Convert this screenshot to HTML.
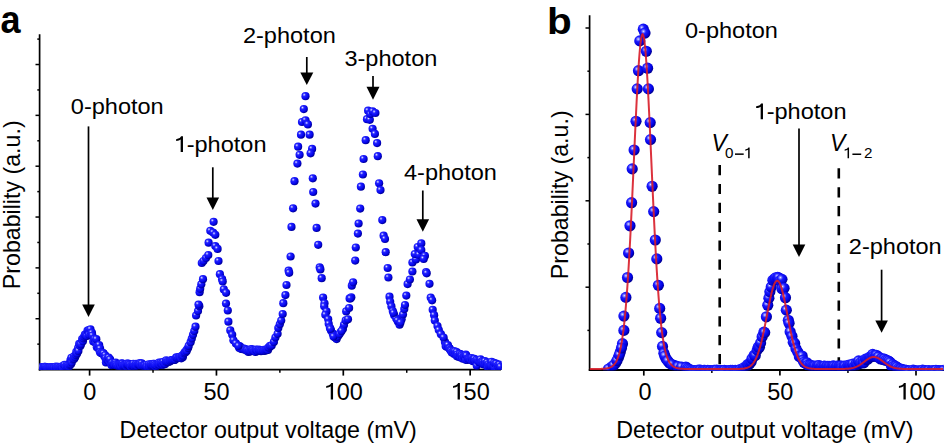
<!DOCTYPE html><html><head><meta charset="utf-8"><style>html,body{margin:0;padding:0;background:#fff;width:946px;height:443px;overflow:hidden}svg{display:block}text{font-family:"Liberation Sans",sans-serif;fill:#000}</style></head><body>
<svg width="946" height="443" viewBox="0 0 946 443">
<defs><radialGradient id="ga" cx="0.34" cy="0.32" r="0.66"><stop offset="0" stop-color="#f4f4ff"/><stop offset="0.12" stop-color="#9090ff"/><stop offset="0.3" stop-color="#2222ff"/><stop offset="0.75" stop-color="#0606ec"/><stop offset="1" stop-color="#0000a0"/></radialGradient><radialGradient id="gb" cx="0.36" cy="0.34" r="0.64"><stop offset="0" stop-color="#e8e8ff"/><stop offset="0.14" stop-color="#8a8aff"/><stop offset="0.36" stop-color="#1c1cff"/><stop offset="0.8" stop-color="#0000e0"/><stop offset="1" stop-color="#000098"/></radialGradient></defs>
<clipPath id="ca"><rect x="39.6" y="0" width="462" height="369.9"/></clipPath><clipPath id="cb"><rect x="589.6" y="0" width="354.2" height="370.2"/></clipPath>
<rect width="946" height="443" fill="#fff"/>
<g stroke="#000" fill="none"><line x1="39.6" y1="34.3" x2="39.6" y2="370.5" stroke-width="1.7"/><line x1="38.8" y1="369.7" x2="501" y2="369.7" stroke-width="1.8"/><line x1="37.3" y1="39.1" x2="39.6" y2="39.1" stroke-width="1.5"/><line x1="35.5" y1="64.52" x2="39.6" y2="64.52" stroke-width="1.5"/><line x1="37.3" y1="89.94" x2="39.6" y2="89.94" stroke-width="1.5"/><line x1="35.5" y1="115.36" x2="39.6" y2="115.36" stroke-width="1.5"/><line x1="37.3" y1="140.78" x2="39.6" y2="140.78" stroke-width="1.5"/><line x1="35.5" y1="166.2" x2="39.6" y2="166.2" stroke-width="1.5"/><line x1="37.3" y1="191.62" x2="39.6" y2="191.62" stroke-width="1.5"/><line x1="35.5" y1="217.04" x2="39.6" y2="217.04" stroke-width="1.5"/><line x1="37.3" y1="242.46" x2="39.6" y2="242.46" stroke-width="1.5"/><line x1="35.5" y1="267.88" x2="39.6" y2="267.88" stroke-width="1.5"/><line x1="37.3" y1="293.3" x2="39.6" y2="293.3" stroke-width="1.5"/><line x1="35.5" y1="318.72" x2="39.6" y2="318.72" stroke-width="1.5"/><line x1="37.3" y1="344.14" x2="39.6" y2="344.14" stroke-width="1.5"/><line x1="89.6" y1="369.7" x2="89.6" y2="375.6" stroke-width="1.7"/><line x1="216.45" y1="369.7" x2="216.45" y2="375.6" stroke-width="1.7"/><line x1="343.3" y1="369.7" x2="343.3" y2="375.6" stroke-width="1.7"/><line x1="470.15" y1="369.7" x2="470.15" y2="375.6" stroke-width="1.7"/><line x1="153.02" y1="369.7" x2="153.02" y2="372.8" stroke-width="1.5"/><line x1="279.88" y1="369.7" x2="279.88" y2="372.8" stroke-width="1.5"/><line x1="406.73" y1="369.7" x2="406.73" y2="372.8" stroke-width="1.5"/></g>
<g stroke="#000" fill="none"><line x1="589.6" y1="15.3" x2="589.6" y2="370.8" stroke-width="1.7"/><line x1="588.8" y1="370" x2="944" y2="370" stroke-width="1.8"/><line x1="585.5" y1="28" x2="589.6" y2="28" stroke-width="1.5"/><line x1="587.4" y1="71.2" x2="589.6" y2="71.2" stroke-width="1.5"/><line x1="585.5" y1="114.4" x2="589.6" y2="114.4" stroke-width="1.5"/><line x1="587.4" y1="157.6" x2="589.6" y2="157.6" stroke-width="1.5"/><line x1="585.5" y1="200.8" x2="589.6" y2="200.8" stroke-width="1.5"/><line x1="587.4" y1="244" x2="589.6" y2="244" stroke-width="1.5"/><line x1="585.5" y1="287.2" x2="589.6" y2="287.2" stroke-width="1.5"/><line x1="587.4" y1="330.4" x2="589.6" y2="330.4" stroke-width="1.5"/><line x1="643.8" y1="370" x2="643.8" y2="375.6" stroke-width="1.7"/><line x1="779.9" y1="370" x2="779.9" y2="375.6" stroke-width="1.7"/><line x1="916" y1="370" x2="916" y2="375.6" stroke-width="1.7"/><line x1="711.85" y1="370" x2="711.85" y2="373" stroke-width="1.5"/><line x1="847.95" y1="370" x2="847.95" y2="373" stroke-width="1.5"/><line x1="719.7" y1="165" x2="719.7" y2="366" stroke-width="2.6" stroke-dasharray="10.2 8.7"/><line x1="838.8" y1="168.3" x2="838.8" y2="366" stroke-width="2.6" stroke-dasharray="10.2 8.7"/></g>
<g fill="url(#ga)" clip-path="url(#ca)"><circle cx="40.13" cy="367.47" r="4.1"/><circle cx="40.62" cy="367.49" r="4.1"/><circle cx="41.35" cy="367.13" r="4.1"/><circle cx="42.21" cy="368.16" r="4.1"/><circle cx="42.86" cy="368.12" r="4.1"/><circle cx="43.55" cy="367.8" r="4.1"/><circle cx="44.41" cy="366.77" r="4.1"/><circle cx="45.02" cy="367.85" r="4.1"/><circle cx="45.16" cy="366.75" r="4.1"/><circle cx="46.18" cy="367.16" r="4.1"/><circle cx="46.99" cy="367.75" r="4.1"/><circle cx="47.54" cy="367.86" r="4.1"/><circle cx="48.5" cy="367.75" r="4.1"/><circle cx="49.53" cy="367.27" r="4.1"/><circle cx="50.1" cy="367.88" r="4.1"/><circle cx="50.32" cy="367.29" r="4.1"/><circle cx="51.17" cy="367.43" r="4.1"/><circle cx="51.96" cy="367.92" r="4.1"/><circle cx="52.36" cy="367.38" r="4.1"/><circle cx="53.61" cy="367.34" r="4.1"/><circle cx="54.06" cy="367.2" r="4.1"/><circle cx="54.33" cy="367.81" r="4.1"/><circle cx="55.73" cy="367.62" r="4.1"/><circle cx="56.02" cy="366.59" r="4.1"/><circle cx="56.6" cy="367.55" r="4.1"/><circle cx="57.48" cy="367.85" r="4.1"/><circle cx="58.41" cy="366.85" r="4.1"/><circle cx="59.14" cy="367.84" r="4.1"/><circle cx="59.69" cy="368.16" r="4.1"/><circle cx="59.98" cy="367.47" r="4.1"/><circle cx="60.85" cy="367.79" r="4.1"/><circle cx="61.38" cy="366.87" r="4.1"/><circle cx="62.27" cy="366.33" r="4.1"/><circle cx="62.59" cy="367.96" r="4.1"/><circle cx="63.86" cy="365.58" r="4.1"/><circle cx="64.64" cy="367.73" r="4.1"/><circle cx="64.57" cy="364.88" r="4.1"/><circle cx="65.72" cy="366.51" r="4.1"/><circle cx="66.84" cy="364.96" r="4.1"/><circle cx="67.34" cy="366.34" r="4.1"/><circle cx="68.11" cy="365.26" r="4.1"/><circle cx="68.85" cy="366.7" r="4.1"/><circle cx="69.54" cy="364.75" r="4.1"/><circle cx="70.42" cy="360.26" r="4.1"/><circle cx="70.93" cy="364.26" r="4.1"/><circle cx="71.34" cy="357.89" r="4.1"/><circle cx="71.75" cy="362.44" r="4.1"/><circle cx="73.15" cy="359.51" r="4.1"/><circle cx="74" cy="356.25" r="4.1"/><circle cx="74.26" cy="358.67" r="4.1"/><circle cx="75.16" cy="357.12" r="4.1"/><circle cx="75.99" cy="355.05" r="4.1"/><circle cx="76.3" cy="351.88" r="4.1"/><circle cx="77.11" cy="353.44" r="4.1"/><circle cx="78.04" cy="348.13" r="4.1"/><circle cx="78.39" cy="350.95" r="4.1"/><circle cx="79.17" cy="343.91" r="4.1"/><circle cx="79.83" cy="344.62" r="4.1"/><circle cx="80.34" cy="345.97" r="4.1"/><circle cx="80.98" cy="344.3" r="4.1"/><circle cx="82.16" cy="339" r="4.1"/><circle cx="82.91" cy="341.24" r="4.1"/><circle cx="83.44" cy="338.36" r="4.1"/><circle cx="84.24" cy="336.59" r="4.1"/><circle cx="84.87" cy="334.72" r="4.1"/><circle cx="85.5" cy="335.09" r="4.1"/><circle cx="86.34" cy="334.4" r="4.1"/><circle cx="86.98" cy="335.92" r="4.1"/><circle cx="87.51" cy="330.59" r="4.1"/><circle cx="88.53" cy="330.68" r="4.1"/><circle cx="89.1" cy="330.11" r="4.1"/><circle cx="89.06" cy="334.59" r="4.1"/><circle cx="90.46" cy="329.31" r="4.1"/><circle cx="91.16" cy="333.31" r="4.1"/><circle cx="91.96" cy="332.96" r="4.1"/><circle cx="92.37" cy="335.54" r="4.1"/><circle cx="93.29" cy="341.42" r="4.1"/><circle cx="94.45" cy="339.02" r="4.1"/><circle cx="95.72" cy="342.92" r="4.1"/><circle cx="96.32" cy="339.2" r="4.1"/><circle cx="96.85" cy="347.27" r="4.1"/><circle cx="98.08" cy="346.19" r="4.1"/><circle cx="98.91" cy="348.92" r="4.1"/><circle cx="99.15" cy="345.02" r="4.1"/><circle cx="100.1" cy="348.58" r="4.1"/><circle cx="99.97" cy="352.25" r="4.1"/><circle cx="100.98" cy="353.12" r="4.1"/><circle cx="101.67" cy="353.22" r="4.1"/><circle cx="103.04" cy="353.13" r="4.1"/><circle cx="103.49" cy="353.39" r="4.1"/><circle cx="104.18" cy="356.06" r="4.1"/><circle cx="105.22" cy="355.26" r="4.1"/><circle cx="105.47" cy="358.29" r="4.1"/><circle cx="105.95" cy="362.39" r="4.1"/><circle cx="106.87" cy="359.79" r="4.1"/><circle cx="107.82" cy="359.18" r="4.1"/><circle cx="108.5" cy="360.22" r="4.1"/><circle cx="108.66" cy="357.49" r="4.1"/><circle cx="109.5" cy="362.07" r="4.1"/><circle cx="110.07" cy="359.46" r="4.1"/><circle cx="111.33" cy="364.33" r="4.1"/><circle cx="111.61" cy="365.23" r="4.1"/><circle cx="112.25" cy="362.94" r="4.1"/><circle cx="113.64" cy="364.43" r="4.1"/><circle cx="114.33" cy="363.24" r="4.1"/><circle cx="114.6" cy="364.89" r="4.1"/><circle cx="115.69" cy="362.62" r="4.1"/><circle cx="115.89" cy="364.23" r="4.1"/><circle cx="116.84" cy="364.73" r="4.1"/><circle cx="117.18" cy="365.71" r="4.1"/><circle cx="118.51" cy="365.53" r="4.1"/><circle cx="118.79" cy="365.89" r="4.1"/><circle cx="119.79" cy="364.24" r="4.1"/><circle cx="120.27" cy="365.03" r="4.1"/><circle cx="120.87" cy="366.18" r="4.1"/><circle cx="121.54" cy="363.31" r="4.1"/><circle cx="122.54" cy="363.71" r="4.1"/><circle cx="122.89" cy="365.45" r="4.1"/><circle cx="123.95" cy="365.18" r="4.1"/><circle cx="124.77" cy="365.25" r="4.1"/><circle cx="125.4" cy="365.13" r="4.1"/><circle cx="126.24" cy="366.37" r="4.1"/><circle cx="126.76" cy="364.63" r="4.1"/><circle cx="126.97" cy="363.66" r="4.1"/><circle cx="128.21" cy="363.59" r="4.1"/><circle cx="128.64" cy="364.17" r="4.1"/><circle cx="129.33" cy="364.99" r="4.1"/><circle cx="130.1" cy="364.67" r="4.1"/><circle cx="130.75" cy="366.57" r="4.1"/><circle cx="131.69" cy="365.56" r="4.1"/><circle cx="131.83" cy="364.97" r="4.1"/><circle cx="133.11" cy="364.68" r="4.1"/><circle cx="133.39" cy="363.8" r="4.1"/><circle cx="134.44" cy="365.92" r="4.1"/><circle cx="135.14" cy="365.11" r="4.1"/><circle cx="135.35" cy="365.24" r="4.1"/><circle cx="136.18" cy="363.85" r="4.1"/><circle cx="136.9" cy="365.83" r="4.1"/><circle cx="137.55" cy="364.37" r="4.1"/><circle cx="138.41" cy="363.86" r="4.1"/><circle cx="139.23" cy="364.13" r="4.1"/><circle cx="139.92" cy="363.18" r="4.1"/><circle cx="140.05" cy="364.55" r="4.1"/><circle cx="141.17" cy="365.64" r="4.1"/><circle cx="141.72" cy="363.27" r="4.1"/><circle cx="142.53" cy="365.29" r="4.1"/><circle cx="143.53" cy="365.67" r="4.1"/><circle cx="144.12" cy="365.58" r="4.1"/><circle cx="144.9" cy="366.1" r="4.1"/><circle cx="144.92" cy="365.39" r="4.1"/><circle cx="146.47" cy="365.74" r="4.1"/><circle cx="146.72" cy="364.79" r="4.1"/><circle cx="147.1" cy="366.57" r="4.1"/><circle cx="148.85" cy="365.39" r="4.1"/><circle cx="149.11" cy="364.27" r="4.1"/><circle cx="149.61" cy="366.51" r="4.1"/><circle cx="150.57" cy="365.41" r="4.1"/><circle cx="151.02" cy="364.17" r="4.1"/><circle cx="151.95" cy="365.06" r="4.1"/><circle cx="152.39" cy="364.73" r="4.1"/><circle cx="153.05" cy="363.87" r="4.1"/><circle cx="153.87" cy="365.33" r="4.1"/><circle cx="154.33" cy="363.86" r="4.1"/><circle cx="155.52" cy="366.61" r="4.1"/><circle cx="155.29" cy="364.92" r="4.1"/><circle cx="156.76" cy="364.83" r="4.1"/><circle cx="157.45" cy="365.61" r="4.1"/><circle cx="158.17" cy="364.14" r="4.1"/><circle cx="159" cy="362.57" r="4.1"/><circle cx="159.26" cy="364.32" r="4.1"/><circle cx="160.59" cy="365.02" r="4.1"/><circle cx="160.67" cy="362.63" r="4.1"/><circle cx="161.59" cy="363.77" r="4.1"/><circle cx="162" cy="363.01" r="4.1"/><circle cx="163.2" cy="364.81" r="4.1"/><circle cx="163.3" cy="361.95" r="4.1"/><circle cx="164.59" cy="364.06" r="4.1"/><circle cx="165.24" cy="363.94" r="4.1"/><circle cx="165.81" cy="361.58" r="4.1"/><circle cx="166.25" cy="360.34" r="4.1"/><circle cx="167.27" cy="361.81" r="4.1"/><circle cx="167.81" cy="361.07" r="4.1"/><circle cx="168.63" cy="361.8" r="4.1"/><circle cx="169.29" cy="361.74" r="4.1"/><circle cx="170.14" cy="360.76" r="4.1"/><circle cx="170.43" cy="360.83" r="4.1"/><circle cx="171.34" cy="360.05" r="4.1"/><circle cx="172.08" cy="360.23" r="4.1"/><circle cx="172.78" cy="360.09" r="4.1"/><circle cx="173.13" cy="359.75" r="4.1"/><circle cx="174.4" cy="359.96" r="4.1"/><circle cx="174.79" cy="359.73" r="4.1"/><circle cx="175.3" cy="359.51" r="4.1"/><circle cx="176.25" cy="357.39" r="4.1"/><circle cx="177.12" cy="357.9" r="4.1"/><circle cx="176.98" cy="357.52" r="4.1"/><circle cx="178.73" cy="357.29" r="4.1"/><circle cx="178.7" cy="357.55" r="4.1"/><circle cx="179.87" cy="356.99" r="4.1"/><circle cx="180.48" cy="357.73" r="4.1"/><circle cx="181.32" cy="358.36" r="4.1"/><circle cx="181.99" cy="355.63" r="4.1"/><circle cx="182.78" cy="357.19" r="4.1"/><circle cx="182.97" cy="355.64" r="4.1"/><circle cx="184.12" cy="353.35" r="4.1"/><circle cx="184.91" cy="352.01" r="4.1"/><circle cx="185.57" cy="352.22" r="4.1"/><circle cx="186.68" cy="349.87" r="4.1"/><circle cx="186.69" cy="350.92" r="4.1"/><circle cx="188.09" cy="348.05" r="4.1"/><circle cx="238.76" cy="346.05" r="4.1"/><circle cx="239.24" cy="347.97" r="4.1"/><circle cx="239.99" cy="346.23" r="4.1"/><circle cx="240.92" cy="348.03" r="4.1"/><circle cx="241.35" cy="348.98" r="4.1"/><circle cx="242.17" cy="349.11" r="4.1"/><circle cx="242.75" cy="349.01" r="4.1"/><circle cx="243.61" cy="348.94" r="4.1"/><circle cx="243.98" cy="348.5" r="4.1"/><circle cx="244.47" cy="349.56" r="4.1"/><circle cx="245.04" cy="349.41" r="4.1"/><circle cx="246.38" cy="349.43" r="4.1"/><circle cx="246.93" cy="350.64" r="4.1"/><circle cx="247.29" cy="350.21" r="4.1"/><circle cx="248.47" cy="351.98" r="4.1"/><circle cx="248.82" cy="351.42" r="4.1"/><circle cx="249.29" cy="350.43" r="4.1"/><circle cx="250.67" cy="351.23" r="4.1"/><circle cx="251.13" cy="349.12" r="4.1"/><circle cx="251.4" cy="351.17" r="4.1"/><circle cx="252.27" cy="349.23" r="4.1"/><circle cx="252.89" cy="350.22" r="4.1"/><circle cx="254" cy="350.78" r="4.1"/><circle cx="254.82" cy="351.29" r="4.1"/><circle cx="255.63" cy="351.98" r="4.1"/><circle cx="255.91" cy="349.69" r="4.1"/><circle cx="256.47" cy="349.85" r="4.1"/><circle cx="257.44" cy="350.59" r="4.1"/><circle cx="257.74" cy="351" r="4.1"/><circle cx="258.83" cy="349.58" r="4.1"/><circle cx="259.46" cy="350.37" r="4.1"/><circle cx="260.05" cy="350.48" r="4.1"/><circle cx="261.03" cy="351.18" r="4.1"/><circle cx="261.47" cy="350.63" r="4.1"/><circle cx="261.66" cy="350.65" r="4.1"/><circle cx="263.05" cy="350.09" r="4.1"/><circle cx="263.79" cy="349.76" r="4.1"/><circle cx="264.1" cy="350.9" r="4.1"/><circle cx="265.06" cy="350.23" r="4.1"/><circle cx="265.99" cy="350.45" r="4.1"/><circle cx="266.33" cy="349.7" r="4.1"/><circle cx="267.22" cy="349.26" r="4.1"/><circle cx="268.01" cy="349.96" r="4.1"/><circle cx="268.3" cy="347.52" r="4.1"/><circle cx="269.15" cy="347.4" r="4.1"/><circle cx="270.01" cy="345.85" r="4.1"/><circle cx="270.77" cy="346.1" r="4.1"/><circle cx="444.94" cy="341.91" r="4.1"/><circle cx="445.66" cy="346.08" r="4.1"/><circle cx="446.47" cy="345.4" r="4.1"/><circle cx="446.55" cy="346.71" r="4.1"/><circle cx="447.9" cy="345" r="4.1"/><circle cx="449.12" cy="348.06" r="4.1"/><circle cx="449.56" cy="348.38" r="4.1"/><circle cx="450.18" cy="349.86" r="4.1"/><circle cx="450.6" cy="350.22" r="4.1"/><circle cx="451.07" cy="350.87" r="4.1"/><circle cx="451.79" cy="352.48" r="4.1"/><circle cx="453.27" cy="351.52" r="4.1"/><circle cx="453.44" cy="351.29" r="4.1"/><circle cx="454.15" cy="354.04" r="4.1"/><circle cx="454.9" cy="351.28" r="4.1"/><circle cx="455.72" cy="353.85" r="4.1"/><circle cx="456.68" cy="352.03" r="4.1"/><circle cx="456.94" cy="356.29" r="4.1"/><circle cx="457.53" cy="354.4" r="4.1"/><circle cx="458.16" cy="356.58" r="4.1"/><circle cx="458.92" cy="355.74" r="4.1"/><circle cx="459.92" cy="353.88" r="4.1"/><circle cx="460.44" cy="357.45" r="4.1"/><circle cx="461.34" cy="354.57" r="4.1"/><circle cx="461.92" cy="355.9" r="4.1"/><circle cx="462.82" cy="358.75" r="4.1"/><circle cx="463.81" cy="355.81" r="4.1"/><circle cx="464.14" cy="356.98" r="4.1"/><circle cx="464.63" cy="356.18" r="4.1"/><circle cx="465.79" cy="354.64" r="4.1"/><circle cx="465.74" cy="359.86" r="4.1"/><circle cx="466.33" cy="355.5" r="4.1"/><circle cx="467.33" cy="360.02" r="4.1"/><circle cx="468.06" cy="358.27" r="4.1"/><circle cx="468.57" cy="358.4" r="4.1"/><circle cx="469.18" cy="358.87" r="4.1"/><circle cx="470.32" cy="358.94" r="4.1"/><circle cx="470.88" cy="360.04" r="4.1"/><circle cx="471.68" cy="358.08" r="4.1"/><circle cx="472.73" cy="358.98" r="4.1"/><circle cx="473.01" cy="361.21" r="4.1"/><circle cx="473.56" cy="359.46" r="4.1"/><circle cx="474.35" cy="358.93" r="4.1"/><circle cx="475.27" cy="361.12" r="4.1"/><circle cx="476.36" cy="361.77" r="4.1"/><circle cx="476.54" cy="359.95" r="4.1"/><circle cx="476.77" cy="365.76" r="4.1"/><circle cx="477.98" cy="360.67" r="4.1"/><circle cx="478.74" cy="361.96" r="4.1"/><circle cx="479.43" cy="361.55" r="4.1"/><circle cx="480.23" cy="362.23" r="4.1"/><circle cx="480.52" cy="359.33" r="4.1"/><circle cx="481.18" cy="362.57" r="4.1"/><circle cx="482.3" cy="361.11" r="4.1"/><circle cx="483" cy="361.96" r="4.1"/><circle cx="483.62" cy="364.4" r="4.1"/><circle cx="484.21" cy="364.15" r="4.1"/><circle cx="484.93" cy="361.21" r="4.1"/><circle cx="485.51" cy="364.32" r="4.1"/><circle cx="486.53" cy="363.56" r="4.1"/><circle cx="487.2" cy="362.45" r="4.1"/><circle cx="487.6" cy="366.96" r="4.1"/><circle cx="488.4" cy="364.34" r="4.1"/><circle cx="489.22" cy="366.7" r="4.1"/><circle cx="489.67" cy="365.8" r="4.1"/><circle cx="490.54" cy="364.47" r="4.1"/><circle cx="491.6" cy="361.78" r="4.1"/><circle cx="491.5" cy="366.19" r="4.1"/><circle cx="492.61" cy="366.07" r="4.1"/><circle cx="493.43" cy="365.72" r="4.1"/><circle cx="493.99" cy="362.74" r="4.1"/><circle cx="494.6" cy="367.65" r="4.1"/><circle cx="495.1" cy="363.75" r="4.1"/><circle cx="496.22" cy="363.56" r="4.1"/><circle cx="496.95" cy="368.35" r="4.1"/><circle cx="498.1" cy="366.16" r="4.1"/><circle cx="498.07" cy="365.07" r="4.1"/><circle cx="499.08" cy="366.87" r="4.1"/><circle cx="499.35" cy="364.53" r="4.1"/><circle cx="500.4" cy="366.75" r="4.1"/><circle cx="188.7" cy="345.9" r="4.1"/><circle cx="190.6" cy="342.2" r="4.1"/><circle cx="191.8" cy="338.5" r="4.1"/><circle cx="193" cy="334.8" r="4.1"/><circle cx="194.3" cy="331" r="4.1"/><circle cx="195.5" cy="326.7" r="4.1"/><circle cx="196.1" cy="315.5" r="4.1"/><circle cx="198" cy="311.1" r="4.1"/><circle cx="199.3" cy="306.2" r="4.1"/><circle cx="198.5" cy="304.6" r="4.1"/><circle cx="199.6" cy="292.2" r="4.1"/><circle cx="200.2" cy="288.8" r="4.1"/><circle cx="201.3" cy="284.3" r="4.1"/><circle cx="203" cy="279.2" r="4.1"/><circle cx="201.8" cy="263" r="4.1"/><circle cx="203.5" cy="261" r="4.1"/><circle cx="206" cy="258" r="4.1"/><circle cx="208.3" cy="255" r="4.1"/><circle cx="208.6" cy="242.7" r="4.1"/><circle cx="210.3" cy="230.8" r="4.1"/><circle cx="213.6" cy="221.8" r="4.1"/><circle cx="213.1" cy="232.5" r="4.1"/><circle cx="215.3" cy="234.8" r="4.1"/><circle cx="215.3" cy="246.1" r="4.1"/><circle cx="217.6" cy="248.9" r="4.1"/><circle cx="218.5" cy="261" r="4.1"/><circle cx="219.9" cy="274.2" r="4.1"/><circle cx="222.1" cy="279.2" r="4.1"/><circle cx="222.7" cy="281.5" r="4.1"/><circle cx="223.8" cy="289.4" r="4.1"/><circle cx="226.1" cy="292.8" r="4.1"/><circle cx="226" cy="303.6" r="4.1"/><circle cx="227.8" cy="310.5" r="4.1"/><circle cx="228.4" cy="321.7" r="4.1"/><circle cx="230.3" cy="330.4" r="4.1"/><circle cx="232.2" cy="334.8" r="4.1"/><circle cx="233.4" cy="340.3" r="4.1"/><circle cx="235.9" cy="343.4" r="4.1"/><circle cx="238.4" cy="345.9" r="4.1"/><circle cx="271.7" cy="345.5" r="4.1"/><circle cx="273.9" cy="341.9" r="4.1"/><circle cx="275.4" cy="337.5" r="4.1"/><circle cx="277.6" cy="333.8" r="4.1"/><circle cx="278.3" cy="328" r="4.1"/><circle cx="279.8" cy="324.3" r="4.1"/><circle cx="281.2" cy="320.6" r="4.1"/><circle cx="282.7" cy="314" r="4.1"/><circle cx="283.3" cy="303.2" r="4.1"/><circle cx="285.4" cy="295.1" r="4.1"/><circle cx="286.5" cy="285" r="4.1"/><circle cx="288.6" cy="270.7" r="4.1"/><circle cx="289.2" cy="272.8" r="4.1"/><circle cx="290.6" cy="256.5" r="4.1"/><circle cx="291.5" cy="226.9" r="4.1"/><circle cx="293.1" cy="208.3" r="4.1"/><circle cx="294.5" cy="181.2" r="4.1"/><circle cx="297.4" cy="163.6" r="4.1"/><circle cx="298.1" cy="146.7" r="4.1"/><circle cx="299.6" cy="154.8" r="4.1"/><circle cx="301" cy="134.7" r="4.1"/><circle cx="302" cy="122" r="4.1"/><circle cx="303.8" cy="109.1" r="4.1"/><circle cx="305.5" cy="96.2" r="4.1"/><circle cx="305.5" cy="120.3" r="4.1"/><circle cx="307.9" cy="124.4" r="4.1"/><circle cx="309.6" cy="134.7" r="4.1"/><circle cx="312.1" cy="148.9" r="4.1"/><circle cx="310.6" cy="153.3" r="4.1"/><circle cx="312.8" cy="178.3" r="4.1"/><circle cx="313.2" cy="192" r="4.1"/><circle cx="315.5" cy="203.6" r="4.1"/><circle cx="316.6" cy="227.9" r="4.1"/><circle cx="318.2" cy="244.8" r="4.1"/><circle cx="319.7" cy="267.4" r="4.1"/><circle cx="320.4" cy="269.4" r="4.1"/><circle cx="321.7" cy="278.2" r="4.1"/><circle cx="323.1" cy="297.5" r="4.1"/><circle cx="324.5" cy="303.3" r="4.1"/><circle cx="324.2" cy="306.3" r="4.1"/><circle cx="326.5" cy="311.4" r="4.1"/><circle cx="325.3" cy="314.8" r="4.1"/><circle cx="328.2" cy="319.3" r="4.1"/><circle cx="328.7" cy="323.8" r="4.1"/><circle cx="329.9" cy="327.8" r="4.1"/><circle cx="331" cy="330.6" r="4.1"/><circle cx="332.7" cy="333.4" r="4.1"/><circle cx="335" cy="337.4" r="4.1"/><circle cx="336.6" cy="339.1" r="4.1"/><circle cx="338.3" cy="335.7" r="4.1"/><circle cx="340.6" cy="332.3" r="4.1"/><circle cx="342.9" cy="328.9" r="4.1"/><circle cx="344" cy="324.9" r="4.1"/><circle cx="345.7" cy="320.4" r="4.1"/><circle cx="348" cy="319.3" r="4.1"/><circle cx="346.2" cy="311.4" r="4.1"/><circle cx="349.1" cy="308" r="4.1"/><circle cx="349.6" cy="298.4" r="4.1"/><circle cx="351.3" cy="297.3" r="4.1"/><circle cx="334" cy="335.5" r="4.1"/><circle cx="337" cy="337" r="4.1"/><circle cx="333.5" cy="336.5" r="4.1"/><circle cx="339.5" cy="334" r="4.1"/><circle cx="330.5" cy="329" r="4.1"/><circle cx="341.5" cy="331" r="4.1"/><circle cx="350.4" cy="298.5" r="4.1"/><circle cx="351.8" cy="285.7" r="4.1"/><circle cx="353.1" cy="282.3" r="4.1"/><circle cx="355.2" cy="260.6" r="4.1"/><circle cx="355.8" cy="247.5" r="4.1"/><circle cx="357.9" cy="233.6" r="4.1"/><circle cx="358.6" cy="223.5" r="4.1"/><circle cx="360.2" cy="208.6" r="4.1"/><circle cx="360.9" cy="186.7" r="4.1"/><circle cx="362.9" cy="174.5" r="4.1"/><circle cx="363.6" cy="159" r="4.1"/><circle cx="365.7" cy="140.2" r="4.1"/><circle cx="367" cy="119.2" r="4.1"/><circle cx="369.8" cy="119.8" r="4.1"/><circle cx="368.1" cy="110.7" r="4.1"/><circle cx="370.3" cy="114.1" r="4.1"/><circle cx="372.6" cy="111.3" r="4.1"/><circle cx="375.4" cy="113" r="4.1"/><circle cx="372.6" cy="128.8" r="4.1"/><circle cx="374.9" cy="133.9" r="4.1"/><circle cx="377.1" cy="143.1" r="4.1"/><circle cx="377.8" cy="156.2" r="4.1"/><circle cx="379.1" cy="183.3" r="4.1"/><circle cx="380.5" cy="190.1" r="4.1"/><circle cx="382.3" cy="220.1" r="4.1"/><circle cx="383.6" cy="235.7" r="4.1"/><circle cx="385" cy="239" r="4.1"/><circle cx="385.7" cy="252.2" r="4.1"/><circle cx="387.7" cy="268" r="4.1"/><circle cx="388.4" cy="277.5" r="4.1"/><circle cx="389.5" cy="296.7" r="4.1"/><circle cx="390.2" cy="301.8" r="4.1"/><circle cx="391.4" cy="306.4" r="4.1"/><circle cx="392.8" cy="311.1" r="4.1"/><circle cx="394.2" cy="315.2" r="4.1"/><circle cx="396.2" cy="318.6" r="4.1"/><circle cx="398.2" cy="322" r="4.1"/><circle cx="399.6" cy="324.7" r="4.1"/><circle cx="401.6" cy="319.3" r="4.1"/><circle cx="403" cy="314.5" r="4.1"/><circle cx="404.3" cy="309.1" r="4.1"/><circle cx="405" cy="305" r="4.1"/><circle cx="406.3" cy="295.6" r="4.1"/><circle cx="407.6" cy="284.1" r="4.1"/><circle cx="409.9" cy="279.5" r="4.1"/><circle cx="397.5" cy="320.5" r="4.1"/><circle cx="400.5" cy="322.5" r="4.1"/><circle cx="393.5" cy="313" r="4.1"/><circle cx="412.4" cy="271.5" r="4.1"/><circle cx="412.4" cy="262.5" r="4.1"/><circle cx="416" cy="259.5" r="4.1"/><circle cx="414.8" cy="254.1" r="4.1"/><circle cx="418.9" cy="254.7" r="4.1"/><circle cx="417.7" cy="247" r="4.1"/><circle cx="421.3" cy="243.4" r="4.1"/><circle cx="421.3" cy="250" r="4.1"/><circle cx="424.9" cy="255.9" r="4.1"/><circle cx="423.7" cy="258.9" r="4.1"/><circle cx="426.1" cy="272.1" r="4.1"/><circle cx="426.7" cy="273.3" r="4.1"/><circle cx="429.5" cy="283.8" r="4.1"/><circle cx="430.7" cy="297.6" r="4.1"/><circle cx="432.1" cy="300.3" r="4.1"/><circle cx="432.7" cy="309.8" r="4.1"/><circle cx="434.1" cy="315.2" r="4.1"/><circle cx="434.8" cy="320.6" r="4.1"/><circle cx="437.5" cy="326" r="4.1"/><circle cx="438.8" cy="330.1" r="4.1"/><circle cx="440.9" cy="334.2" r="4.1"/><circle cx="443.6" cy="337.5" r="4.1"/></g>
<g fill="url(#gb)" clip-path="url(#cb)"><circle cx="611.5" cy="367" r="5.6"/><circle cx="615.7" cy="363" r="5.6"/><circle cx="618.4" cy="357.4" r="5.6"/><circle cx="620.3" cy="352" r="5.6"/><circle cx="622.5" cy="343.7" r="5.6"/><circle cx="623.9" cy="330.4" r="5.6"/><circle cx="623.9" cy="316.1" r="5.6"/><circle cx="625.9" cy="297.4" r="5.6"/><circle cx="627.5" cy="277.5" r="5.6"/><circle cx="628.6" cy="253" r="5.6"/><circle cx="630" cy="225.8" r="5.6"/><circle cx="631.6" cy="202.7" r="5.6"/><circle cx="632.2" cy="168.9" r="5.6"/><circle cx="634.1" cy="150" r="5.6"/><circle cx="636" cy="121.3" r="5.6"/><circle cx="637.2" cy="88.9" r="5.6"/><circle cx="638.5" cy="70.7" r="5.6"/><circle cx="639.8" cy="40.9" r="5.6"/><circle cx="643.3" cy="29.2" r="5.6"/><circle cx="645" cy="33.1" r="5.6"/><circle cx="646.3" cy="51.3" r="5.6"/><circle cx="647.6" cy="68.2" r="5.6"/><circle cx="648.4" cy="88.9" r="5.6"/><circle cx="650.2" cy="122.6" r="5.6"/><circle cx="650.5" cy="139.6" r="5.6"/><circle cx="652.1" cy="186.3" r="5.6"/><circle cx="653.7" cy="211.6" r="5.6"/><circle cx="655.3" cy="240" r="5.6"/><circle cx="656.8" cy="258.9" r="5.6"/><circle cx="658.4" cy="285.3" r="5.6"/><circle cx="659.7" cy="308.4" r="5.6"/><circle cx="660.6" cy="318.3" r="5.6"/><circle cx="661.7" cy="332.6" r="5.6"/><circle cx="662.5" cy="346.4" r="5.6"/><circle cx="663.9" cy="353.3" r="5.6"/><circle cx="666.1" cy="358.8" r="5.6"/><circle cx="669.4" cy="363" r="5.6"/><circle cx="674.9" cy="365.7" r="5.6"/><circle cx="685.9" cy="367" r="5.6"/><circle cx="608.5" cy="369" r="5.6"/><circle cx="613.5" cy="365.5" r="5.6"/><circle cx="617" cy="360.5" r="5.6"/><circle cx="619.3" cy="355" r="5.6"/><circle cx="621.5" cy="348" r="5.6"/><circle cx="664.8" cy="356" r="5.6"/><circle cx="667.8" cy="361" r="5.6"/><circle cx="672" cy="364.5" r="5.6"/><circle cx="678" cy="366.5" r="5.6"/><circle cx="681.5" cy="367" r="5.6"/><circle cx="685.94" cy="367.61" r="5.6"/><circle cx="687.5" cy="368.54" r="5.6"/><circle cx="688.69" cy="369.32" r="5.6"/><circle cx="690.4" cy="369.75" r="5.6"/><circle cx="691.33" cy="370.73" r="5.6"/><circle cx="692.57" cy="370.75" r="5.6"/><circle cx="694.38" cy="370.52" r="5.6"/><circle cx="695.41" cy="370.95" r="5.6"/><circle cx="696.94" cy="370.48" r="5.6"/><circle cx="698.24" cy="370.05" r="5.6"/><circle cx="699.71" cy="370.3" r="5.6"/><circle cx="700.37" cy="370.16" r="5.6"/><circle cx="702.4" cy="370.51" r="5.6"/><circle cx="703.95" cy="370.34" r="5.6"/><circle cx="704.86" cy="370.42" r="5.6"/><circle cx="705.93" cy="370.64" r="5.6"/><circle cx="707.75" cy="370.3" r="5.6"/><circle cx="709.07" cy="370.75" r="5.6"/><circle cx="710.28" cy="370.59" r="5.6"/><circle cx="712.34" cy="370.59" r="5.6"/><circle cx="713.91" cy="370.29" r="5.6"/><circle cx="714.57" cy="370.31" r="5.6"/><circle cx="716.23" cy="370.55" r="5.6"/><circle cx="716.65" cy="370.13" r="5.6"/><circle cx="718.88" cy="370.68" r="5.6"/><circle cx="720.79" cy="370.69" r="5.6"/><circle cx="721.44" cy="370.56" r="5.6"/><circle cx="722.83" cy="370.78" r="5.6"/><circle cx="723.71" cy="371" r="5.6"/><circle cx="724.41" cy="370.39" r="5.6"/><circle cx="726.69" cy="370.74" r="5.6"/><circle cx="728.81" cy="370.78" r="5.6"/><circle cx="729.44" cy="370.5" r="5.6"/><circle cx="730.63" cy="370.35" r="5.6"/><circle cx="732.43" cy="370.31" r="5.6"/><circle cx="733.62" cy="370.51" r="5.6"/><circle cx="735.23" cy="370.45" r="5.6"/><circle cx="736.28" cy="370.65" r="5.6"/><circle cx="737.63" cy="370.7" r="5.6"/><circle cx="739.48" cy="369.86" r="5.6"/><circle cx="740.11" cy="369.96" r="5.6"/><circle cx="741.86" cy="370.23" r="5.6"/><circle cx="743.6" cy="367.89" r="5.6"/><circle cx="744.75" cy="368.74" r="5.6"/><circle cx="745.8" cy="367.48" r="5.6"/><circle cx="747.49" cy="364.59" r="5.6"/><circle cx="748.47" cy="364.77" r="5.6"/><circle cx="749.94" cy="363.31" r="5.6"/><circle cx="751.17" cy="361.86" r="5.6"/><circle cx="752" cy="358.66" r="5.6"/><circle cx="754.2" cy="355.32" r="5.6"/><circle cx="755.25" cy="355.46" r="5.6"/><circle cx="757.2" cy="350.15" r="5.6"/><circle cx="758.3" cy="346.86" r="5.6"/><circle cx="759.45" cy="347.24" r="5.6"/><circle cx="760.59" cy="342.96" r="5.6"/><circle cx="762.14" cy="336.74" r="5.6"/><circle cx="763.86" cy="332.2" r="5.6"/><circle cx="764.68" cy="332.6" r="5.6"/><circle cx="766.39" cy="316.78" r="5.6"/><circle cx="767.75" cy="305.33" r="5.6"/><circle cx="768.88" cy="298.13" r="5.6"/><circle cx="769.86" cy="291.84" r="5.6"/><circle cx="771.22" cy="287.06" r="5.6"/><circle cx="772.87" cy="280.24" r="5.6"/><circle cx="774.66" cy="278.7" r="5.6"/><circle cx="775.64" cy="277.88" r="5.6"/><circle cx="777.59" cy="277.4" r="5.6"/><circle cx="778.59" cy="277.75" r="5.6"/><circle cx="779.92" cy="280.93" r="5.6"/><circle cx="781.95" cy="279.35" r="5.6"/><circle cx="781.96" cy="288.76" r="5.6"/><circle cx="784.05" cy="288.31" r="5.6"/><circle cx="785.48" cy="297.67" r="5.6"/><circle cx="786.32" cy="310.15" r="5.6"/><circle cx="788.31" cy="320.24" r="5.6"/><circle cx="789.05" cy="323.25" r="5.6"/><circle cx="790.14" cy="331.82" r="5.6"/><circle cx="791.95" cy="336.28" r="5.6"/><circle cx="793.23" cy="342.2" r="5.6"/><circle cx="794.68" cy="343.43" r="5.6"/><circle cx="795.96" cy="348.66" r="5.6"/><circle cx="797.75" cy="352.06" r="5.6"/><circle cx="799.39" cy="356.66" r="5.6"/><circle cx="800.11" cy="356.26" r="5.6"/><circle cx="802.17" cy="355.99" r="5.6"/><circle cx="802.95" cy="360.13" r="5.6"/><circle cx="803.91" cy="362.3" r="5.6"/><circle cx="805.67" cy="363.29" r="5.6"/><circle cx="807.13" cy="362.92" r="5.6"/><circle cx="807.84" cy="365.14" r="5.6"/><circle cx="809.82" cy="365.31" r="5.6"/><circle cx="811.25" cy="365.52" r="5.6"/><circle cx="812.41" cy="366.33" r="5.6"/><circle cx="813.72" cy="366.21" r="5.6"/><circle cx="814.96" cy="366.26" r="5.6"/><circle cx="817.08" cy="365.89" r="5.6"/><circle cx="817.87" cy="366.36" r="5.6"/><circle cx="819.04" cy="365.54" r="5.6"/><circle cx="820.92" cy="366.43" r="5.6"/><circle cx="822.16" cy="366.6" r="5.6"/><circle cx="823.77" cy="366.34" r="5.6"/><circle cx="824.56" cy="366.16" r="5.6"/><circle cx="826.1" cy="366.95" r="5.6"/><circle cx="827.27" cy="366.28" r="5.6"/><circle cx="828.99" cy="366.32" r="5.6"/><circle cx="829.8" cy="366.72" r="5.6"/><circle cx="831.57" cy="366.79" r="5.6"/><circle cx="833.11" cy="365.96" r="5.6"/><circle cx="834.14" cy="366.42" r="5.6"/><circle cx="836" cy="367.06" r="5.6"/><circle cx="837.09" cy="366.14" r="5.6"/><circle cx="839.01" cy="366" r="5.6"/><circle cx="840.04" cy="366.2" r="5.6"/><circle cx="841.28" cy="366.07" r="5.6"/><circle cx="841.64" cy="367.76" r="5.6"/><circle cx="843.91" cy="366.14" r="5.6"/><circle cx="844.92" cy="366.31" r="5.6"/><circle cx="846.5" cy="367.63" r="5.6"/><circle cx="848.1" cy="365.32" r="5.6"/><circle cx="849.55" cy="365.08" r="5.6"/><circle cx="850.6" cy="365.54" r="5.6"/><circle cx="851.96" cy="366.43" r="5.6"/><circle cx="852.77" cy="364" r="5.6"/><circle cx="854.86" cy="366.07" r="5.6"/><circle cx="856.26" cy="363.56" r="5.6"/><circle cx="857.55" cy="364.32" r="5.6"/><circle cx="858.63" cy="360.88" r="5.6"/><circle cx="860.3" cy="363.36" r="5.6"/><circle cx="860.7" cy="362.64" r="5.6"/><circle cx="862.95" cy="361.18" r="5.6"/><circle cx="863.87" cy="362.81" r="5.6"/><circle cx="865.53" cy="359.15" r="5.6"/><circle cx="866.75" cy="359.51" r="5.6"/><circle cx="868" cy="358.92" r="5.6"/><circle cx="869.44" cy="357.34" r="5.6"/><circle cx="870.75" cy="356.72" r="5.6"/><circle cx="872.65" cy="354.46" r="5.6"/><circle cx="873.51" cy="356.19" r="5.6"/><circle cx="875.34" cy="356.26" r="5.6"/><circle cx="876.37" cy="355.25" r="5.6"/><circle cx="877.92" cy="357.16" r="5.6"/><circle cx="878.49" cy="356.87" r="5.6"/><circle cx="880.58" cy="359.02" r="5.6"/><circle cx="881.76" cy="358.5" r="5.6"/><circle cx="883.07" cy="359.53" r="5.6"/><circle cx="884.34" cy="359.02" r="5.6"/><circle cx="885.74" cy="360.28" r="5.6"/><circle cx="887.47" cy="360.57" r="5.6"/><circle cx="888.84" cy="361.27" r="5.6"/><circle cx="890.11" cy="362.46" r="5.6"/><circle cx="891.42" cy="365.77" r="5.6"/><circle cx="892.73" cy="364.58" r="5.6"/><circle cx="893.56" cy="366.27" r="5.6"/><circle cx="895.49" cy="366.3" r="5.6"/><circle cx="896.82" cy="367.22" r="5.6"/><circle cx="898.39" cy="368.67" r="5.6"/><circle cx="899.7" cy="369.27" r="5.6"/><circle cx="900.87" cy="369.05" r="5.6"/><circle cx="902.15" cy="369.64" r="5.6"/><circle cx="903.08" cy="370.04" r="5.6"/><circle cx="904.95" cy="370.21" r="5.6"/><circle cx="906.31" cy="370.24" r="5.6"/><circle cx="907.63" cy="370.9" r="5.6"/><circle cx="908.26" cy="371.42" r="5.6"/><circle cx="909.85" cy="370.74" r="5.6"/><circle cx="912.56" cy="371.09" r="5.6"/><circle cx="913.16" cy="370.05" r="5.6"/><circle cx="914.39" cy="370.96" r="5.6"/><circle cx="915.17" cy="370.97" r="5.6"/><circle cx="917.31" cy="371.06" r="5.6"/><circle cx="918.38" cy="370.81" r="5.6"/><circle cx="919.77" cy="370.99" r="5.6"/><circle cx="921.13" cy="370.87" r="5.6"/><circle cx="922.63" cy="370.13" r="5.6"/><circle cx="924.23" cy="370.86" r="5.6"/><circle cx="925.35" cy="370.54" r="5.6"/><circle cx="926.76" cy="370.99" r="5.6"/><circle cx="928.68" cy="371.17" r="5.6"/><circle cx="928.86" cy="370.53" r="5.6"/><circle cx="931.26" cy="371.06" r="5.6"/><circle cx="932.4" cy="371.08" r="5.6"/><circle cx="933.31" cy="370.61" r="5.6"/><circle cx="934.61" cy="371.07" r="5.6"/><circle cx="935.94" cy="370.26" r="5.6"/><circle cx="938.18" cy="371.55" r="5.6"/><circle cx="938.74" cy="370.59" r="5.6"/><circle cx="940.1" cy="370.87" r="5.6"/><circle cx="941.66" cy="371.19" r="5.6"/><circle cx="943.43" cy="370.47" r="5.6"/></g>
<polyline points="589.6,369 590.1,369 590.6,369 591.1,369 591.6,369 592.1,369 592.6,368.99 593.1,368.99 593.6,368.99 594.1,368.99 594.6,368.99 595.1,368.99 595.6,368.98 596.1,368.98 596.6,368.98 597.1,368.97 597.6,368.97 598.1,368.96 598.6,368.95 599.1,368.94 599.6,368.93 600.1,368.92 600.6,368.91 601.1,368.89 601.6,368.87 602.1,368.85 602.6,368.83 603.1,368.8 603.6,368.76 604.1,368.72 604.6,368.68 605.1,368.62 605.6,368.56 606.1,368.49 606.6,368.41 607.1,368.32 607.6,368.22 608.1,368.1 608.6,367.96 609.1,367.81 609.6,367.63 610.1,367.43 610.6,367.2 611.1,366.95 611.6,366.66 612.1,366.33 612.6,365.96 613.1,365.54 613.6,365.07 614.1,364.53 614.6,363.93 615.1,363.26 615.6,362.51 616.1,361.66 616.6,360.71 617.1,359.65 617.6,358.46 618.1,357.13 618.6,355.66 619.1,354.01 619.6,352.19 620.1,350.16 620.6,347.92 621.1,345.44 621.6,342.71 622.1,339.71 622.6,336.41 623.1,332.8 623.6,328.85 624.1,324.55 624.6,319.88 625.1,314.83 625.6,309.36 626.1,303.48 626.6,297.16 627.1,290.41 627.6,283.22 628.1,275.57 628.6,267.49 629.1,258.97 629.6,250.03 630.1,240.69 630.6,230.97 631.1,220.9 631.6,210.52 632.1,199.87 632.6,189.01 633.1,177.98 633.6,166.85 634.1,155.69 634.6,144.57 635.1,133.55 635.6,122.73 636.1,112.18 636.6,101.99 637.1,92.23 637.6,82.99 638.1,74.35 638.6,66.38 639.1,59.17 639.6,52.77 640.1,47.24 640.6,42.64 641.1,39.02 641.6,36.41 642.1,34.83 642.6,34.3 643.1,34.83 643.6,36.41 644.1,39.02 644.6,42.64 645.1,47.24 645.6,52.77 646.1,59.17 646.6,66.38 647.1,74.35 647.6,82.99 648.1,92.23 648.6,101.99 649.1,112.18 649.6,122.73 650.1,133.55 650.6,144.57 651.1,155.69 651.6,166.85 652.1,177.98 652.6,189.01 653.1,199.87 653.6,210.52 654.1,220.9 654.6,230.97 655.1,240.69 655.6,250.03 656.1,258.97 656.6,267.49 657.1,275.57 657.6,283.22 658.1,290.41 658.6,297.16 659.1,303.48 659.6,309.36 660.1,314.83 660.6,319.88 661.1,324.55 661.6,328.85 662.1,332.8 662.6,336.41 663.1,339.71 663.6,342.71 664.1,345.44 664.6,347.92 665.1,350.16 665.6,352.19 666.1,354.01 666.6,355.66 667.1,357.13 667.6,358.46 668.1,359.65 668.6,360.71 669.1,361.66 669.6,362.51 670.1,363.26 670.6,363.93 671.1,364.53 671.6,365.07 672.1,365.54 672.6,365.96 673.1,366.33 673.6,366.66 674.1,366.95 674.6,367.2 675.1,367.43 675.6,367.63 676.1,367.81 676.6,367.96 677.1,368.1 677.6,368.22 678.1,368.32 678.6,368.41 679.1,368.49 679.6,368.56 680.1,368.62 680.6,368.68 681.1,368.72 681.6,368.76 682.1,368.8 682.6,368.83 683.1,368.85 683.6,368.87 684.1,368.89 684.6,368.91 685.1,368.92 685.6,368.93 686.1,368.94 686.6,368.95 687.1,368.96 687.6,368.97 688.1,368.97 688.6,368.98 689.1,368.98 689.6,368.98 690.1,368.99 690.6,368.99 691.1,368.99 691.6,368.99 692.1,368.99 692.6,368.99 693.1,369 693.6,369 694.1,369 694.6,369 695.1,369 695.6,369 696.1,369 696.6,369 697.1,369 697.6,369 698.1,369 698.6,369 699.1,369 699.6,369 700.1,369 700.6,369 701.1,369 701.6,369 702.1,369 702.6,369 703.1,369 703.6,369 704.1,369 704.6,369 705.1,369 705.6,369 706.1,369 706.6,369 707.1,369 707.6,369 708.1,369 708.6,369 709.1,369 709.6,369 710.1,369 710.6,369 711.1,369 711.6,369 712.1,369 712.6,369 713.1,369 713.6,369 714.1,369 714.6,369 715.1,369 715.6,369 716.1,369 716.6,369 717.1,369 717.6,369 718.1,369 718.6,369 719.1,369 719.6,369 720.1,369 720.6,369 721.1,369 721.6,369 722.1,369 722.6,369 723.1,369 723.6,369 724.1,369 724.6,369 725.1,369 725.6,369 726.1,369 726.6,369 727.1,369 727.6,369 728.1,369 728.6,369 729.1,369 729.6,369 730.1,369 730.6,369 731.1,369 731.6,369 732.1,368.99 732.6,368.99 733.1,368.99 733.6,368.99 734.1,368.99 734.6,368.98 735.1,368.98 735.6,368.97 736.1,368.97 736.6,368.96 737.1,368.95 737.6,368.95 738.1,368.93 738.6,368.92 739.1,368.91 739.6,368.89 740.1,368.87 740.6,368.84 741.1,368.81 741.6,368.78 742.1,368.73 742.6,368.69 743.1,368.63 743.6,368.57 744.1,368.49 744.6,368.41 745.1,368.31 745.6,368.2 746.1,368.07 746.6,367.93 747.1,367.77 747.6,367.58 748.1,367.37 748.6,367.13 749.1,366.86 749.6,366.56 750.1,366.23 750.6,365.85 751.1,365.44 751.6,364.98 752.1,364.47 752.6,363.9 753.1,363.28 753.6,362.6 754.1,361.86 754.6,361.05 755.1,360.16 755.6,359.21 756.1,358.17 756.6,357.05 757.1,355.85 757.6,354.56 758.1,353.18 758.6,351.71 759.1,350.15 759.6,348.49 760.1,346.74 760.6,344.9 761.1,342.97 761.6,340.96 762.1,338.85 762.6,336.67 763.1,334.4 763.6,332.07 764.1,329.67 764.6,327.22 765.1,324.71 765.6,322.17 766.1,319.59 766.6,317 767.1,314.4 767.6,311.81 768.1,309.23 768.6,306.69 769.1,304.19 769.6,301.74 770.1,299.37 770.6,297.09 771.1,294.9 771.6,292.83 772.1,290.89 772.6,289.08 773.1,287.43 773.6,285.93 774.1,284.61 774.6,283.47 775.1,282.52 775.6,281.76 776.1,281.2 776.6,280.85 777.1,280.7 777.6,280.77 778.1,281.04 778.6,281.51 779.1,282.19 779.6,283.06 780.1,284.13 780.6,285.38 781.1,286.81 781.6,288.4 782.1,290.15 782.6,292.04 783.1,294.06 783.6,296.2 784.1,298.45 784.6,300.79 785.1,303.2 785.6,305.68 786.1,308.21 786.6,310.78 787.1,313.36 787.6,315.96 788.1,318.56 788.6,321.14 789.1,323.7 789.6,326.22 790.1,328.7 790.6,331.12 791.1,333.48 791.6,335.77 792.1,337.99 792.6,340.12 793.1,342.18 793.6,344.14 794.1,346.02 794.6,347.8 795.1,349.5 795.6,351.09 796.1,352.6 796.6,354.02 797.1,355.34 797.6,356.58 798.1,357.73 798.6,358.8 799.1,359.79 799.6,360.7 800.1,361.54 800.6,362.31 801.1,363.02 801.6,363.66 802.1,364.25 802.6,364.78 803.1,365.26 803.6,365.69 804.1,366.08 804.6,366.43 805.1,366.75 805.6,367.03 806.1,367.28 806.6,367.5 807.1,367.69 807.6,367.87 808.1,368.02 808.6,368.15 809.1,368.27 809.6,368.37 810.1,368.46 810.6,368.54 811.1,368.61 811.6,368.67 812.1,368.72 812.6,368.76 813.1,368.8 813.6,368.83 814.1,368.86 814.6,368.88 815.1,368.9 815.6,368.92 816.1,368.93 816.6,368.94 817.1,368.95 817.6,368.96 818.1,368.97 818.6,368.97 819.1,368.98 819.6,368.98 820.1,368.98 820.6,368.99 821.1,368.99 821.6,368.99 822.1,368.99 822.6,368.99 823.1,369 823.6,369 824.1,369 824.6,369 825.1,369 825.6,369 826.1,369 826.6,369 827.1,369 827.6,369 828.1,369 828.6,369 829.1,369 829.6,369 830.1,369 830.6,369 831.1,369 831.6,369 832.1,369 832.6,369 833.1,369 833.6,369 834.1,369 834.6,369 835.1,369 835.6,369 836.1,369 836.6,368.99 837.1,368.99 837.6,368.99 838.1,368.99 838.6,368.99 839.1,368.98 839.6,368.98 840.1,368.98 840.6,368.97 841.1,368.97 841.6,368.96 842.1,368.95 842.6,368.95 843.1,368.94 843.6,368.92 844.1,368.91 844.6,368.89 845.1,368.87 845.6,368.85 846.1,368.83 846.6,368.8 847.1,368.77 847.6,368.73 848.1,368.69 848.6,368.64 849.1,368.59 849.6,368.53 850.1,368.47 850.6,368.39 851.1,368.31 851.6,368.22 852.1,368.12 852.6,368.01 853.1,367.88 853.6,367.75 854.1,367.6 854.6,367.44 855.1,367.27 855.6,367.08 856.1,366.88 856.6,366.67 857.1,366.44 857.6,366.2 858.1,365.94 858.6,365.66 859.1,365.38 859.6,365.07 860.1,364.76 860.6,364.43 861.1,364.09 861.6,363.74 862.1,363.38 862.6,363.01 863.1,362.64 863.6,362.26 864.1,361.87 864.6,361.49 865.1,361.11 865.6,360.73 866.1,360.36 866.6,360 867.1,359.64 867.6,359.3 868.1,358.98 868.6,358.67 869.1,358.38 869.6,358.12 870.1,357.88 870.6,357.66 871.1,357.47 871.6,357.32 872.1,357.19 872.6,357.1 873.1,357.03 873.6,357 874.1,357.01 874.6,357.04 875.1,357.11 875.6,357.21 876.1,357.35 876.6,357.51 877.1,357.7 877.6,357.92 878.1,358.17 878.6,358.44 879.1,358.73 879.6,359.04 880.1,359.37 880.6,359.71 881.1,360.07 881.6,360.43 882.1,360.81 882.6,361.19 883.1,361.57 883.6,361.95 884.1,362.33 884.6,362.71 885.1,363.09 885.6,363.45 886.1,363.81 886.6,364.16 887.1,364.5 887.6,364.82 888.1,365.13 888.6,365.43 889.1,365.72 889.6,365.99 890.1,366.25 890.6,366.49 891.1,366.71 891.6,366.93 892.1,367.12 892.6,367.31 893.1,367.48 893.6,367.63 894.1,367.78 894.6,367.91 895.1,368.03 895.6,368.14 896.1,368.24 896.6,368.33 897.1,368.41 897.6,368.48 898.1,368.54 898.6,368.6 899.1,368.65 899.6,368.7 900.1,368.74 900.6,368.78 901.1,368.81 901.6,368.83 902.1,368.86 902.6,368.88 903.1,368.9 903.6,368.91 904.1,368.93 904.6,368.94 905.1,368.95 905.6,368.96 906.1,368.96 906.6,368.97 907.1,368.97 907.6,368.98 908.1,368.98 908.6,368.99 909.1,368.99 909.6,368.99 910.1,368.99 910.6,368.99 911.1,368.99 911.6,369 912.1,369 912.6,369 913.1,369 913.6,369 914.1,369 914.6,369 915.1,369 915.6,369 916.1,369 916.6,369 917.1,369 917.6,369 918.1,369 918.6,369 919.1,369 919.6,369 920.1,369 920.6,369 921.1,369 921.6,369 922.1,369 922.6,369 923.1,369 923.6,369 924.1,369 924.6,369 925.1,369 925.6,369 926.1,369 926.6,369 927.1,369 927.6,369 928.1,369 928.6,369 929.1,369 929.6,369 930.1,369 930.6,369 931.1,369 931.6,369 932.1,369 932.6,369 933.1,369 933.6,369 934.1,369 934.6,369 935.1,369 935.6,369 936.1,369 936.6,369 937.1,369 937.6,369 938.1,369 938.6,369 939.1,369 939.6,369 940.1,369 940.6,369 941.1,369 941.6,369 942.1,369 942.6,369 943.1,369" fill="none" stroke="#d81c28" stroke-opacity="0.9" stroke-width="2" clip-path="url(#cb)"/>
<line x1="88.5" y1="126.4" x2="88.5" y2="305.4" stroke="#000" stroke-width="1.7"/><polygon points="82.2,304.4 94.8,304.4 88.5,317.1" fill="#000"/>
<line x1="212.8" y1="167.3" x2="212.8" y2="198.4" stroke="#000" stroke-width="1.7"/><polygon points="206.5,197.4 219.1,197.4 212.8,210" fill="#000"/>
<line x1="306.8" y1="57" x2="306.8" y2="73.4" stroke="#000" stroke-width="1.7"/><polygon points="300.3,72.4 313.3,72.4 306.8,85" fill="#000"/>
<line x1="373" y1="76" x2="373" y2="87.8" stroke="#000" stroke-width="1.7"/><polygon points="366.5,86.8 379.5,86.8 373,99.7" fill="#000"/>
<line x1="422.8" y1="190.5" x2="422.8" y2="220.3" stroke="#000" stroke-width="1.7"/><polygon points="416.5,219.3 429.1,219.3 422.8,231.8" fill="#000"/>
<line x1="799" y1="128.5" x2="799" y2="245.4" stroke="#000" stroke-width="1.7"/><polygon points="792.7,244.4 805.3,244.4 799,257.1" fill="#000"/>
<line x1="881.6" y1="269.7" x2="881.6" y2="321.4" stroke="#000" stroke-width="1.7"/><polygon points="875.3,320.4 887.9,320.4 881.6,332.8" fill="#000"/>
<g transform="translate(0.6,32.6) scale(0.95,1)"><text x="0" y="0" font-size="38" font-weight="bold">a</text></g><g transform="translate(546.9,33.5) scale(1.065,0.99)"><text x="0" y="0" font-size="38" font-weight="bold">b</text></g><g transform="translate(70.8,113.9) scale(1.024,0.97)"><text x="0" y="0" font-size="23" >0-photon</text></g><g transform="translate(242.9,42.7) scale(1.024,0.97)"><text x="0" y="0" font-size="23" >2-photon</text></g><g transform="translate(344.4,65.5) scale(1.024,0.97)"><text x="0" y="0" font-size="23" >3-photon</text></g><g transform="translate(404,179.9) scale(1.024,0.97)"><text x="0" y="0" font-size="23" >4-photon</text></g><g transform="translate(685,38) scale(1.024,0.97)"><text x="0" y="0" font-size="23" >0-photon</text></g><g transform="translate(848.8,253.8) scale(1.024,0.97)"><text x="0" y="0" font-size="23" >2-photon</text></g><g transform="translate(173.6,152) scale(1.024,0.97)"><path transform="translate(0,0) scale(0.02300,-0.02300)" d="M300 0L398 0L398 703L318 703C300 650 250 600 108 577L108 497C200 510 260 530 300 563Z" fill="#000"/><text x="12.79" y="0" font-size="23" >-photon</text></g><g transform="translate(753.6,119.2) scale(1.024,0.97)"><path transform="translate(0,0) scale(0.02300,-0.02300)" d="M300 0L398 0L398 703L318 703C300 650 250 600 108 577L108 497C200 510 260 530 300 563Z" fill="#000"/><text x="12.79" y="0" font-size="23" >-photon</text></g><text x="89.9" y="399.6" font-size="23.5" text-anchor="middle">0</text><text x="216.45" y="399.6" font-size="23.5" text-anchor="middle">50</text><text x="645" y="399.6" font-size="23.5" text-anchor="middle">0</text><text x="780.2" y="399.6" font-size="23.5" text-anchor="middle">50</text><path transform="translate(323.7,399.6) scale(0.02350,-0.02350)" d="M300 0L398 0L398 703L318 703C300 650 250 600 108 577L108 497C200 510 260 530 300 563Z" fill="#000"/><text x="336.77" y="399.6" font-size="23.5" >00</text><path transform="translate(450.55,399.6) scale(0.02350,-0.02350)" d="M300 0L398 0L398 703L318 703C300 650 250 600 108 577L108 497C200 510 260 530 300 563Z" fill="#000"/><text x="463.62" y="399.6" font-size="23.5" >50</text><path transform="translate(896.4,399.6) scale(0.02350,-0.02350)" d="M300 0L398 0L398 703L318 703C300 650 250 600 108 577L108 497C200 510 260 530 300 563Z" fill="#000"/><text x="909.47" y="399.6" font-size="23.5" >00</text><text x="119.6" y="437.6" font-size="23.25" >Detector output voltage (mV)</text><text x="616.2" y="437.8" font-size="23.25" >Detector output voltage (mV)</text><text transform="translate(19.8,289.2) rotate(-90)" font-size="23.2">Probability (a.u.)</text><text transform="translate(568,279.2) rotate(-90)" font-size="23.2">Probability (a.u.)</text><text x="711.6" y="151.1" font-size="23" font-style="italic">V</text><text x="725.1" y="158.4" font-size="15.2">0</text><rect x="735" y="153.4" width="8.7" height="1.5" fill="#000"/><path transform="translate(743.6,158.3) scale(0.01520,-0.01520)" d="M300 0L398 0L398 703L318 703C300 650 250 600 108 577L108 497C200 510 260 530 300 563Z" fill="#000"/><text x="829.9" y="150.9" font-size="23" font-style="italic">V</text><path transform="translate(843,158.3) scale(0.01520,-0.01520)" d="M300 0L398 0L398 703L318 703C300 650 250 600 108 577L108 497C200 510 260 530 300 563Z" fill="#000"/><rect x="852.4" y="153.5" width="8.8" height="1.5" fill="#000"/><text x="864" y="158.4" font-size="15.2">2</text>
</svg></body></html>
